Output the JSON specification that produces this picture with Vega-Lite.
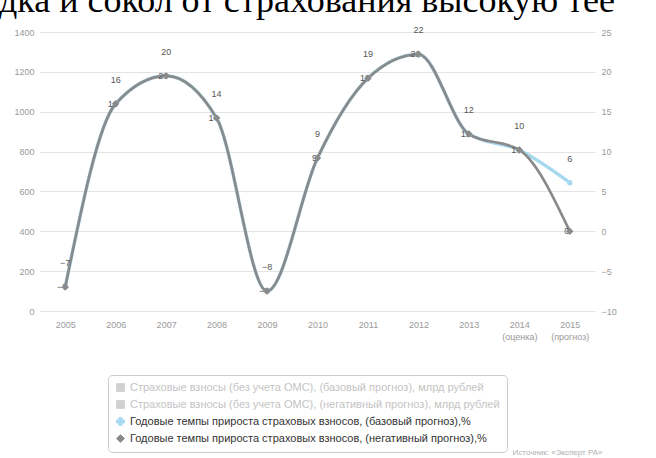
{
  "$schema": "https://vega.github.io/schema/vega-lite/v6.json",
  "width": 555,
  "height": 279,
  "autosize": {"type": "none"},
  "padding": {"left": 40, "top": 32, "right": 61, "bottom": 147},
  "background": "white",
  "title": {
    "text": "дка и сокол от страхования высокую тее",
    "font": "Liberation Serif",
    "fontSize": 36,
    "fontWeight": "normal",
    "color": "#000000",
    "anchor": "start",
    "frame": "bounds",
    "baseline": "alphabetic",
    "offset": 0,
    "dx": -15,
    "dy": 22
  },
  "config": {
    "view": {"stroke": null},
    "font": "Liberation Sans"
  },
  "datasets": {
    "rates": [
      {"year": "2005", "series": "Годовые темпы прироста страховых взносов, (базовый прогноз),%", "value": -7},
      {"year": "2006", "series": "Годовые темпы прироста страховых взносов, (базовый прогноз),%", "value": 16},
      {"year": "2007", "series": "Годовые темпы прироста страховых взносов, (базовый прогноз),%", "value": 19.5},
      {"year": "2008", "series": "Годовые темпы прироста страховых взносов, (базовый прогноз),%", "value": 14.2},
      {"year": "2009", "series": "Годовые темпы прироста страховых взносов, (базовый прогноз),%", "value": -7.5},
      {"year": "2010", "series": "Годовые темпы прироста страховых взносов, (базовый прогноз),%", "value": 9.2},
      {"year": "2011", "series": "Годовые темпы прироста страховых взносов, (базовый прогноз),%", "value": 19.2},
      {"year": "2012", "series": "Годовые темпы прироста страховых взносов, (базовый прогноз),%", "value": 22.2},
      {"year": "2013", "series": "Годовые темпы прироста страховых взносов, (базовый прогноз),%", "value": 12.2},
      {"year": "2014", "series": "Годовые темпы прироста страховых взносов, (базовый прогноз),%", "value": 10.2},
      {"year": "2015", "series": "Годовые темпы прироста страховых взносов, (базовый прогноз),%", "value": 6.1},
      {"year": "2005", "series": "Годовые темпы прироста страховых взносов, (негативный прогноз),%", "value": -7},
      {"year": "2006", "series": "Годовые темпы прироста страховых взносов, (негативный прогноз),%", "value": 16},
      {"year": "2007", "series": "Годовые темпы прироста страховых взносов, (негативный прогноз),%", "value": 19.5},
      {"year": "2008", "series": "Годовые темпы прироста страховых взносов, (негативный прогноз),%", "value": 14.2},
      {"year": "2009", "series": "Годовые темпы прироста страховых взносов, (негативный прогноз),%", "value": -7.5},
      {"year": "2010", "series": "Годовые темпы прироста страховых взносов, (негативный прогноз),%", "value": 9.2},
      {"year": "2011", "series": "Годовые темпы прироста страховых взносов, (негативный прогноз),%", "value": 19.2},
      {"year": "2012", "series": "Годовые темпы прироста страховых взносов, (негативный прогноз),%", "value": 22.2},
      {"year": "2013", "series": "Годовые темпы прироста страховых взносов, (негативный прогноз),%", "value": 12.2},
      {"year": "2014", "series": "Годовые темпы прироста страховых взносов, (негативный прогноз),%", "value": 10.2},
      {"year": "2015", "series": "Годовые темпы прироста страховых взносов, (негативный прогноз),%", "value": 0}
    ],
    "leftAxis": [{"v": 0}]
  },
  "layer": [
    {
      "data": {"name": "leftAxis"},
      "mark": {"type": "rule", "opacity": 0},
      "encoding": {
        "y": {
          "field": "v",
          "type": "quantitative",
          "scale": {"domain": [0, 1400], "nice": false, "zero": false},
          "axis": {
            "orient": "left",
            "values": [0, 200, 400, 600, 800, 1000, 1200, 1400],
            "format": "d",
            "grid": true,
            "gridColor": "#e4e4e4",
            "gridWidth": 1,
            "ticks": false,
            "domain": false,
            "labelColor": "#9a9a9a",
            "labelFontSize": 9,
            "labelPadding": 6,
            "title": null
          }
        }
      }
    },
    {
      "data": {"name": "rates"},
      "encoding": {
        "x": {
          "field": "year",
          "type": "ordinal",
          "sort": null,
          "axis": {
            "labelAngle": 0,
            "labelColor": "#9a9a9a",
            "labelFontSize": 9,
            "labelPadding": 9,
            "labelLineHeight": 12,
            "ticks": false,
            "domain": false,
            "labelExpr": "datum.value == '2014' ? ['2014', '(оценка)'] : datum.value == '2015' ? ['2015', '(прогноз)'] : datum.label",
            "title": "Источник: «Эксперт РА»",
            "titleAnchor": "end",
            "titleAlign": "right",
            "titleX": 562,
            "titleY": 143,
            "titleBaseline": "alphabetic",
            "titleFontSize": 8,
            "titleFontWeight": "normal",
            "titleColor": "#b0b0b0"
          }
        },
        "y": {
          "field": "value",
          "type": "quantitative",
          "scale": {"domain": [-10, 25], "nice": false, "zero": false},
          "axis": {
            "orient": "right",
            "values": [-10, -5, 0, 5, 10, 15, 20, 25],
            "grid": false,
            "ticks": false,
            "domain": false,
            "labelColor": "#9a9a9a",
            "labelFontSize": 9,
            "labelPadding": 6,
            "title": null
          }
        },
        "color": {
          "field": "series",
          "type": "nominal",
          "scale": {
            "domain": [
              "Страховые взносы (без учета ОМС), (базовый прогноз), млрд рублей",
              "Страховые взносы (без учета ОМС), (негативный прогноз), млрд рублей",
              "Годовые темпы прироста страховых взносов, (базовый прогноз),%",
              "Годовые темпы прироста страховых взносов, (негативный прогноз),%"
            ],
            "range": ["#d0d0d0", "#d0d0d0", "#a6d9f0", "#8a8a8a"]
          },
          "legend": {
            "orient": "none",
            "legendX": 68,
            "legendY": 343,
            "direction": "vertical",
            "title": null,
            "padding": 7,
            "strokeColor": "#cccccc",
            "fillColor": "#ffffff",
            "cornerRadius": 4,
            "labelFontSize": 11,
            "labelLimit": 460,
            "rowPadding": 4,
            "symbolSize": 60,
            "encode": {
              "labels": {"update": {"fill": {"signal": "datum.index < 2 ? '#c4c4c4' : '#333333'"}}},
              "symbols": {"update": {
                "shape": {"signal": "datum.index < 2 ? 'square' : datum.index == 2 ? 'cross' : 'diamond'"},
                "fill": {"signal": "datum.index < 2 ? '#c8c8c8' : datum.index == 2 ? '#a6d9f0' : '#333333'"},
                "stroke": {"signal": "datum.index < 2 ? '#bbbbbb' : datum.index == 2 ? '#a6d9f0' : '#333333'"},
                "strokeWidth": {"value": 1}
              }}
            }
          }
        }
      },
      "layer": [
        {
          "transform": [{"filter": "indexof(datum.series, 'базовый') >= 0"}],
          "mark": {"type": "line", "interpolate": "monotone", "strokeWidth": 3.5}
        },
        {
          "transform": [{"filter": "indexof(datum.series, 'негативный') >= 0"}],
          "mark": {"type": "line", "interpolate": "monotone", "strokeWidth": 2.7}
        },
        {
          "transform": [{"filter": "indexof(datum.series, 'базовый') >= 0"}],
          "mark": {"type": "text", "dy": -24, "fontSize": 9, "color": "#555555"},
          "encoding": {
            "text": {"field": "value", "type": "quantitative", "format": ".0f"},
            "color": {"value": "#555555"}
          }
        },
        {
          "transform": [{"filter": "indexof(datum.series, 'негативный') >= 0"}],
          "mark": {"type": "text", "dx": -3, "align": "center", "fontSize": 9, "color": "#555555"},
          "encoding": {
            "text": {"field": "value", "type": "quantitative", "format": ".0f"},
            "color": {"value": "#555555"}
          }
        },
        {
          "transform": [{"filter": "indexof(datum.series, 'базовый') >= 0"}],
          "mark": {"type": "point", "filled": true, "size": 30, "shape": "circle", "opacity": 1}
        },
        {
          "transform": [{"filter": "indexof(datum.series, 'негативный') >= 0"}],
          "mark": {"type": "point", "filled": true, "size": 55, "shape": "diamond", "opacity": 1, "color": "#333333"}
        }
      ]
    }
  ],
  "resolve": {"scale": {"y": "independent"}}
}
